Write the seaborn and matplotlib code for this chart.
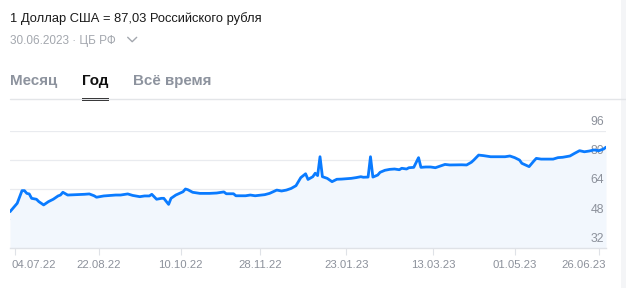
import numpy as np
import pandas as pd
import seaborn as sns
import matplotlib
matplotlib.use("Agg")
import matplotlib.pyplot as plt
from matplotlib.lines import Line2D
from matplotlib.patches import Rectangle
import matplotlib.transforms as mtransforms

# ---- data (trading-day index, USD/RUB rate) ----
day_index = [0, 3, 5, 6, 7, 8, 9, 11, 12, 14, 16, 18, 20, 21, 22, 24, 31, 33, 35, 36,
             39, 42, 44, 46, 49, 51, 54, 56, 58, 59, 61, 63, 64, 66, 67, 69, 72, 73, 74, 76,
             79, 83, 86, 89, 90, 93, 94, 98, 100, 102, 106, 108, 111, 113, 115, 117, 119, 121, 123, 124,
             126, 127, 128, 129, 130, 132, 134, 136, 138, 142, 144, 146, 147, 149, 150, 151, 153, 154, 156, 158,
             160, 162, 163, 165, 166, 168, 170, 171, 173, 175, 177, 179, 181, 183, 188, 190, 192, 193, 195, 197,
             200, 206, 208, 210, 212, 213, 216, 218, 219, 221, 226, 228, 230, 233, 235, 237, 239, 241, 243, 245,
             247, 248]
rate = [51.8, 56.4, 63.3, 63.3, 61.8, 61.5, 59.1, 58.6, 57.3, 55.5, 57.3, 58.6, 60.4, 60.9, 62.4, 60.9, 61.3, 61.5, 60.5, 59.7,
        60.4, 60.7, 60.9, 60.9, 61.5, 60.7, 60.0, 60.4, 60.4, 61.3, 58.6, 59.1, 59.1, 55.8, 59.1, 60.9, 62.7, 64.2, 63.8, 62.4,
        61.8, 61.8, 62.0, 62.6, 61.6, 61.6, 60.5, 60.5, 60.9, 60.5, 61.1, 61.8, 63.6, 63.1, 63.6, 64.5, 66.0, 70.4, 72.5, 69.4,
        70.9, 72.8, 71.5, 81.8, 70.9, 70.0, 68.2, 69.5, 69.6, 70.0, 70.4, 70.9, 70.6, 70.7, 81.8, 70.7, 71.8, 73.3, 74.4, 74.9,
        75.1, 74.7, 75.5, 75.1, 75.8, 76.0, 81.3, 76.0, 76.2, 76.2, 75.8, 76.7, 77.6, 77.3, 77.4, 77.3, 78.8, 80.0, 82.7, 82.4,
        81.8, 81.8, 82.2, 81.3, 80.0, 78.2, 76.4, 79.5, 80.9, 80.5, 80.5, 81.3, 81.5, 82.2, 83.7, 85.1, 84.5, 84.9, 85.5, 85.1,
        86.0, 87.03]
tick_index = [2, 37, 71, 104, 140, 176, 210, 245]
tick_labels = ["04.07.22", "22.08.22", "10.10.22", "28.11.22", "23.01.23", "13.03.23", "01.05.23", "26.06.23"]
y_ticks = [32, 48, 64, 80, 96]

title_text = "1 Доллар США = 87,03 Российского рубля"
subtitle_text = "30.06.2023 · ЦБ РФ"
tabs = ["Месяц", "Год", "Всё время"]

df = pd.DataFrame({"day": day_index, "rate": rate})

sns.set_style("white")
plt.rcParams["font.family"] = ["Liberation Sans", "DejaVu Sans"]

W, H = 626, 288
fig = plt.figure(figsize=(W / 100, H / 100), dpi=100)
fig.patch.set_facecolor("white")

def fx(x):
    return x / W

def fy(y):
    return 1 - y / H

ax = fig.add_axes([fx(10), fy(248), fx(606) - fx(10), fy(130.7) - fy(248)])
ax.set_facecolor("white")

LINE = "#0a7bff"
GRAY = "#8c919b"

ax.fill_between(df["day"], df["rate"], 32, color="#f2f7fd", zorder=1, linewidth=0)
sns.lineplot(data=df, x="day", y="rate", ax=ax, color=LINE, linewidth=2.0, zorder=4)

ax.set_xlim(0, 248)
ax.set_ylim(32, 96)
ax.set_yticks(y_ticks)
ax.yaxis.grid(True, color="#e9ebef", linewidth=0.9, zorder=0)
ax.tick_params(axis="y", left=False, right=False, labelleft=False, labelright=False)
for s in ["top", "left", "right"]:
    ax.spines[s].set_visible(False)
ax.spines["bottom"].set_color("#dfe2e7")
ax.spines["bottom"].set_linewidth(1.0)
ax.set_xlabel("")
ax.set_ylabel("")

ax.set_xticks(tick_index)
ax.set_xticklabels(tick_labels)
ax.tick_params(axis="x", bottom=True, length=5, width=0.8, color="#dfe2e7",
               labelsize=8.2, labelcolor=GRAY, pad=3.5)
labels = ax.get_xticklabels()
labels[0].set_horizontalalignment("left")
labels[0].set_transform(labels[0].get_transform() +
                        mtransforms.ScaledTranslation(-3.7 / 100, 0, fig.dpi_scale_trans))
labels[-1].set_horizontalalignment("right")
labels[-1].set_transform(labels[-1].get_transform() +
                         mtransforms.ScaledTranslation(6.7 / 100, 0, fig.dpi_scale_trans))

blend = mtransforms.blended_transform_factory(ax.transAxes, ax.transData)
for v in y_ticks:
    ax.annotate(str(v), xy=(1, v), xycoords=blend, xytext=(-1.5, 6.5),
                textcoords="offset points", ha="right", va="center",
                fontsize=8.8, color=GRAY, zorder=2, annotation_clip=False)

# ---- header texts ----
fig.text(fx(10), fy(22), title_text, fontsize=9.3, color="#1a1a1a", va="baseline", ha="left")
fig.text(fx(10), fy(44), subtitle_text, fontsize=8.5, color="#a3a7ae", va="baseline", ha="left")
fig.add_artist(Line2D([fx(127.7), fx(132.2), fx(136.7)], [fy(37.3), fy(41.7), fy(37.3)],
                      transform=fig.transFigure, color="#a3a7ae", linewidth=1.0))

tab_x = [10, 82.3, 133.3]
tab_colors = ["#8d939e", "#111111", "#8d939e"]
for t, x, c in zip(tabs, tab_x, tab_colors):
    fig.text(fx(x), fy(85.5), t, fontsize=10.9, fontweight="bold", color=c, va="baseline", ha="left")

fig.add_artist(Line2D([fx(10), fx(626)], [fy(99), fy(99)], transform=fig.transFigure,
                      color="#e3e5e8", linewidth=1.0))
fig.add_artist(Rectangle((fx(82.3), fy(100.8)), fx(108.7) - fx(82.3), fy(97.6) - fy(100.8),
                         transform=fig.transFigure, color="#111111", linewidth=0))
fig.add_artist(Rectangle((fx(621), 0), fx(626) - fx(621), 1, transform=fig.transFigure,
                         color="#f4f5f7", linewidth=0))

fig.savefig("out.png", dpi=100, facecolor="white")
